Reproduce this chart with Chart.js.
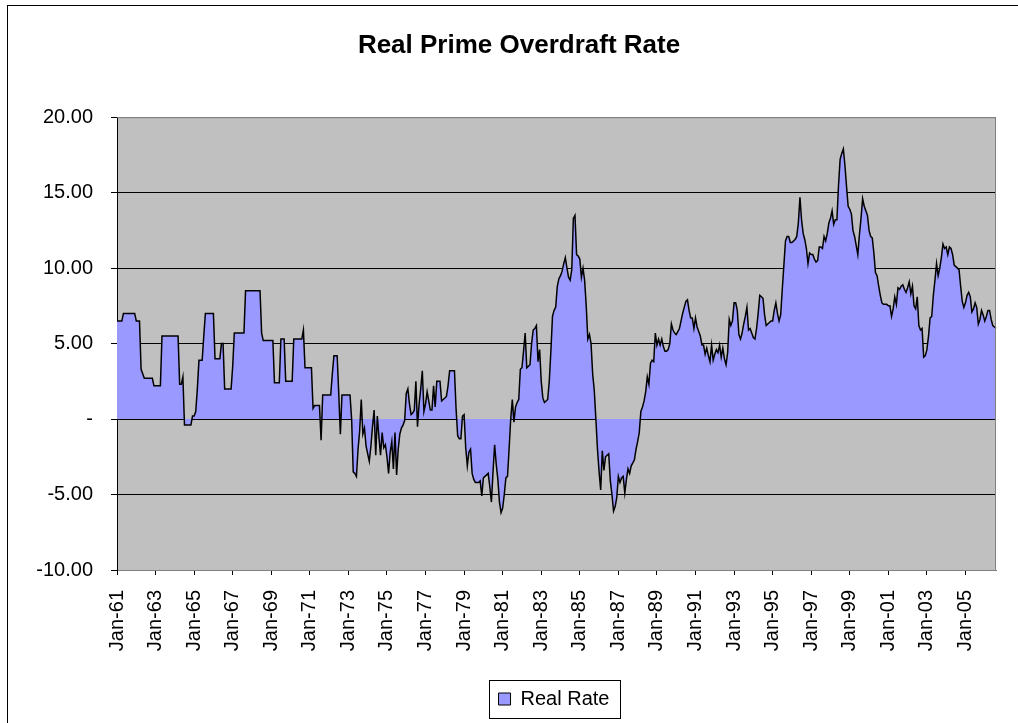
<!DOCTYPE html>
<html>
<head>
<meta charset="utf-8">
<script src="https://cdn.jsdelivr.net/npm/chart.js@4.4.0/dist/chart.umd.min.js"></script>
<style>
  body { margin: 0; background: #fff; }
  #wrap { width: 1018px; height: 723px; }
</style>
</head>
<body>
<div id="wrap"><canvas id="rateChart" width="1018" height="723"></canvas></div>
<script>
// monthly series, Jan-61 .. Aug-06 (one row per year)
const realRate = [
  6.5, 6.5, 6.5, 6.5, 7.0, 7.0, 7.0, 7.0, 7.0, 7.0, 7.0, 7.0,        // 1961
  6.5, 6.5, 6.5, 3.3, 3.0, 2.7, 2.7, 2.7, 2.7, 2.7, 2.7, 2.2,        // 1962
  2.2, 2.2, 2.2, 2.2, 5.5, 5.5, 5.5, 5.5, 5.5, 5.5, 5.5, 5.5,        // 1963
  5.5, 5.5, 5.5, 2.3, 2.3, 2.8, -0.4, -0.4, -0.4, -0.4, -0.4, 0.2,   // 1964
  0.2, 0.5, 2.0, 3.9, 3.9, 3.9, 5.5, 7.0, 7.0, 7.0, 7.0, 7.0,        // 1965
  7.0, 4.0, 4.0, 4.0, 4.0, 5.0, 5.0, 2.0, 2.0, 2.0, 2.0, 2.0,        // 1966
  3.5, 5.7, 5.7, 5.7, 5.7, 5.7, 5.7, 5.7, 8.5, 8.5, 8.5, 8.5,        // 1967
  8.5, 8.5, 8.5, 8.5, 8.5, 8.5, 5.7, 5.2, 5.2, 5.2, 5.2, 5.2,        // 1968
  5.2, 5.2, 2.4, 2.4, 2.4, 2.4, 5.3, 5.3, 5.3, 2.5, 2.5, 2.5,        // 1969
  2.5, 2.5, 5.3, 5.3, 5.3, 5.3, 5.3, 5.3, 5.9, 3.4, 3.4, 3.4,        // 1970
  3.4, 3.4, 0.7, 0.9, 0.9, 0.9, 0.9, -1.4, 1.6, 1.6, 1.6, 1.6,       // 1971
  1.6, 1.6, 3.0, 4.2, 4.2, 4.2, 1.7, -1.0, 1.6, 1.6, 1.6, 1.6,       // 1972
  1.6, 1.6, 0.0, -3.5, -3.6, -3.8, -2.0, -0.8, 1.3, -1.0, -0.6, -1.8, // 1973
  -2.3, -2.8, -1.8, -0.5, 0.6, -2.4, 0.2, -1.2, -2.4, -0.9, -1.9, -1.7, // 1974
  -2.5, -3.6, -2.2, -1.5, -3.3, -0.9, -3.7, -2.0, -1.0, -0.6, -0.4, -0.1, // 1975
  1.7, 2.0, 1.0, 0.3, 0.4, 0.6, 2.5, -0.5, 1.0, 2.0, 3.2, 0.5,       // 1976
  1.0, 1.8, 1.2, 0.6, 0.6, 2.2, 0.8, 2.5, 2.5, 2.5, 1.2, 1.3,        // 1977
  1.4, 1.5, 2.2, 3.2, 3.2, 3.2, 3.2, 0.7, -1.1, -1.3, -1.3, 0.2,     // 1978
  0.3, -1.9, -3.1, -2.2, -2.0, -3.6, -4.0, -4.2, -4.2, -4.2, -4.1, -5.1, // 1979
  -3.9, -3.8, -3.7, -3.6, -4.5, -5.5, -3.5, -1.7, -3.0, -4.0, -5.5, -6.2, // 1980
  -5.9, -5.0, -3.9, -3.8, -2.0, 0.0, 1.3, -0.2, 0.8, 1.1, 1.3, 3.3, // 1981
  3.4, 4.5, 5.7, 3.4, 3.5, 3.6, 5.0, 5.9, 6.0, 6.2, 3.8, 4.6,        // 1982
  2.5, 1.4, 1.1, 1.2, 1.3, 2.5, 4.5, 6.8, 7.2, 7.4, 8.8, 9.3,        // 1983
  9.5, 9.8, 10.3, 10.7, 10.0, 9.4, 9.2, 9.9, 13.3, 13.5, 10.9, 10.8, // 1984
  10.6, 9.4, 10.0, 9.2, 7.5, 5.3, 5.6, 5.0, 3.0, 1.9, 0.0, -2.0,     // 1985
  -3.5, -4.7, -2.1, -3.4, -2.5, -2.4, -2.3, -4.1, -5.0, -6.1, -5.8, -5.2, // 1986
  -3.8, -4.2, -3.9, -3.8, -4.9, -4.0, -3.3, -3.6, -3.1, -2.9, -2.7, -2.0, // 1987
  -1.5, -0.9, 0.5, 0.8, 1.2, 1.8, 2.8, 2.3, 3.7, 3.9, 3.8, 5.7,      // 1988
  4.9, 5.3, 4.9, 5.3, 4.8, 4.5, 4.5, 4.6, 5.0, 6.3, 5.9, 5.7,        // 1989
  5.6, 5.8, 6.0, 6.5, 7.0, 7.4, 7.8, 7.9, 7.2, 6.7, 6.7, 6.0,        // 1990
  6.7, 6.1, 5.8, 5.5, 4.9, 4.9, 4.3, 4.7, 4.2, 3.8, 4.9, 3.9,        // 1991
  4.3, 4.6, 4.4, 4.9, 4.1, 4.7, 4.0, 3.6, 4.4, 6.6, 6.2, 6.5,        // 1992
  7.7, 7.7, 7.2, 5.6, 5.3, 5.7, 6.3, 6.8, 7.4, 5.9, 6.0, 5.7,        // 1993
  5.4, 5.3, 6.0, 7.0, 8.2, 8.1, 8.0, 6.9, 6.2, 6.3, 6.4, 6.5,        // 1994
  6.5, 7.2, 7.7, 7.0, 6.5, 6.9, 8.6, 10.2, 11.8, 12.1, 12.1, 11.7,   // 1995
  11.7, 11.8, 11.9, 12.1, 13.0, 14.7, 13.2, 12.3, 11.9, 11.3, 10.3, 11.0, // 1996
  10.9, 10.9, 10.6, 10.4, 10.5, 11.4, 11.4, 11.3, 12.1, 11.8, 12.3, 13.0, // 1997
  13.3, 13.8, 12.9, 13.2, 13.2, 15.5, 17.2, 17.6, 17.9, 16.8, 15.4, 14.1, // 1998
  13.9, 13.6, 12.5, 12.1, 11.5, 10.9, 12.2, 13.3, 14.6, 14.1, 13.8, 13.5, // 1999
  12.5, 12.1, 12.0, 11.0, 9.7, 9.5, 8.8, 8.2, 7.7, 7.6, 7.6, 7.6,    // 2000
  7.5, 7.5, 6.8, 7.3, 8.1, 7.6, 8.7, 8.6, 8.8, 8.9, 8.6, 8.4,        // 2001
  8.7, 9.1, 8.3, 8.8, 7.5, 7.3, 8.1, 6.2, 5.9, 6.0, 4.1, 4.2,        // 2002
  4.6, 5.5, 6.7, 6.8, 8.2, 9.2, 10.3, 9.5, 10.0, 10.7, 11.6, 11.3,   // 2003
  11.4, 10.9, 11.4, 11.3, 10.9, 10.2, 10.1, 10.0, 9.9, 8.8, 7.8, 7.4, // 2004
  7.7, 8.2, 8.4, 8.1, 7.1, 7.3, 7.7, 7.4, 6.3, 6.6, 7.2, 6.9,        // 2005
  6.5, 6.8, 7.2, 7.2, 6.6, 6.2, 6.1, 6.0                             // 2006
];

const tickLabels = ["Jan-61", "Jan-63", "Jan-65", "Jan-67", "Jan-69", "Jan-71", "Jan-73",
  "Jan-75", "Jan-77", "Jan-79", "Jan-81", "Jan-83", "Jan-85", "Jan-87", "Jan-89", "Jan-91",
  "Jan-93", "Jan-95", "Jan-97", "Jan-99", "Jan-01", "Jan-03", "Jan-05"];

const monthNames = ["Jan", "Feb", "Mar", "Apr", "May", "Jun", "Jul", "Aug", "Sep", "Oct", "Nov", "Dec"];
const startYear = 1961;

// category per month: "Jan-61", "Feb-61", ...
const months = realRate.map((v, i) => {
  const yr = (startYear + Math.floor(i / 12)) % 100;
  return monthNames[i % 12] + "-" + String(yr).padStart(2, "0");
});

const FONT = "'Liberation Sans', Arial, sans-serif";
const LEGEND_SHIFT = 52; // legend sits right of centre in the original
const TITLE_SHIFT = 17;

const chartFrame = {
  id: "chartFrame",
  afterLayout(chart) {
    const lg = chart.legend;
    lg.left += LEGEND_SHIFT;
    lg.right += LEGEND_SHIFT;
    const tb = chart.titleBlock;
    if (tb) {
      tb.left += TITLE_SHIFT;
      tb.right += TITLE_SHIFT;
    }
  },
  beforeDraw(chart) {
    const { ctx, chartArea: a } = chart;
    ctx.save();
    ctx.fillStyle = "#fff";
    ctx.fillRect(0, 0, chart.width, chart.height);
    // outer border
    ctx.strokeStyle = "#000";
    ctx.lineWidth = 1;
    ctx.strokeRect(7.5, 5.5, chart.width + 10, chart.height + 10);
    // plot area
    ctx.fillStyle = "#c0c0c0";
    ctx.fillRect(a.left, a.top, a.right - a.left, a.bottom - a.top);
    ctx.restore();
  },
  afterDraw(chart) {
    const { ctx, chartArea: a } = chart;
    ctx.save();
    ctx.strokeStyle = "#808080";
    ctx.lineWidth = 1;
    ctx.beginPath();
    ctx.moveTo(a.left, a.top + 0.5);
    ctx.lineTo(a.right - 0.5, a.top + 0.5);
    ctx.lineTo(a.right - 0.5, a.bottom);
    ctx.stroke();
    // legend frame around the centred legend item
    const lg = chart.legend;
    ctx.font = "20px " + FONT;
    const w = 12 + 10 + ctx.measureText("Real Rate").width + 20;
    const cx = Math.round((lg.left + lg.right) / 2);
    ctx.strokeStyle = "#000";
    ctx.strokeRect(Math.round(cx - w / 2) + 0.5, Math.round(lg.top) + 1.5, Math.round(w), 38);
    ctx.restore();
  }
};

new Chart(document.getElementById("rateChart"), {
  type: "line",
  data: {
    labels: months,
    datasets: [{
      label: "Real Rate",
      data: realRate,
      borderColor: "#000",
      borderWidth: 1.5,
      backgroundColor: "#9999ff",
      fill: "origin",
      pointRadius: 0,
      tension: 0
    }]
  },
  options: {
    responsive: false,
    animation: false,
    layout: { padding: { left: 8, right: 22, top: 8, bottom: 4 } },
    plugins: {
      title: {
        display: true,
        text: "Real Prime Overdraft Rate",
        color: "#000",
        font: { family: FONT, size: 26, weight: "bold" },
        padding: { top: 22, bottom: 56 }
      },
      legend: {
        position: "bottom",
        labels: {
          color: "#000",
          font: { family: FONT, size: 20 },
          boxWidth: 12,
          boxHeight: 12,
          padding: 10,
          generateLabels: (chart) => [{
            text: "Real Rate",
            fillStyle: "#9999ff",
            strokeStyle: "#000",
            lineWidth: 1,
            datasetIndex: 0
          }]
        }
      },
      tooltip: { enabled: false }
    },
    scales: {
      x: {
        type: "category",
        offset: false,
        afterFit: (s) => { s.height = 109; },
        grid: { display: true, drawOnChartArea: false, drawTicks: true, tickLength: 5, color: "#000" },
        border: { display: true, color: "#808080" },
        ticks: {
          autoSkip: false,
          maxRotation: 90,
          minRotation: 90,
          padding: 15,
          color: "#000",
          font: { family: FONT, size: 20 },
          callback: function (val, i) {
            const lab = months[i];
            return tickLabels.includes(lab) ? lab : null;
          }
        }
      },
      y: {
        min: -10,
        max: 20,
        afterFit: (s) => { s.width = 109; },
        grid: {
          color: (c) => (c.tick && (c.tick.value === 20 || c.tick.value === -10)) ? "#808080" : "#000",
          tickColor: "#000",
          tickLength: 6,
          lineWidth: 1
        },
        border: { display: true, color: "#000" },
        ticks: {
          stepSize: 5,
          padding: 18,
          color: "#000",
          font: { family: FONT, size: 20 },
          callback: (v) => v === 0 ? "-" : v.toFixed(2)
        }
      }
    }
  },
  plugins: [chartFrame]
});
</script>
</body>
</html>
